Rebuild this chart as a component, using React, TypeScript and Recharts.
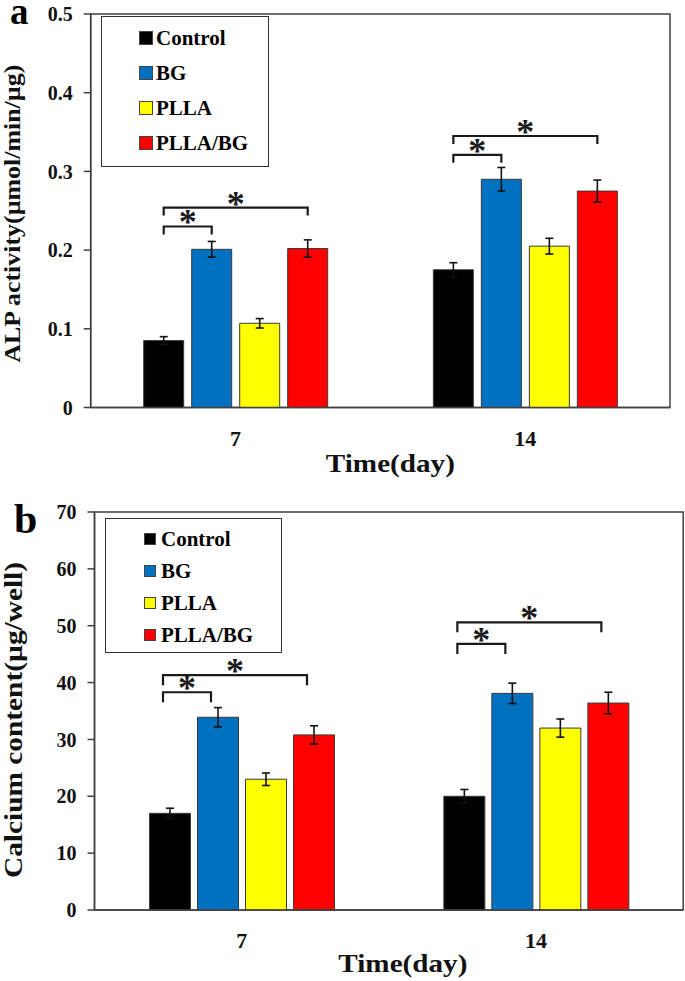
import React from 'react';
import { BarChart, Bar, XAxis, YAxis, ErrorBar, LabelList, Legend, ReferenceArea } from 'recharts';

const FONT = "'Liberation Serif', 'Times New Roman', serif";

const days = ['7', '14'];
const seriesNames = ['Control', 'BG', 'PLLA', 'PLLA/BG'];
const seriesColors = ['#000000', '#0070C0', '#FFFF00', '#FF0000'];

// (a) ALP activity, umol/min/ug
const alpControl = [0.085, 0.175];
const alpControlErr = [0.005, 0.009];
const alpBG = [0.201, 0.29];
const alpBGErr = [0.01, 0.015];
const alpPLLA = [0.107, 0.205];
const alpPLLAErr = [0.006, 0.01];
const alpPLLABG = [0.202, 0.275];
const alpPLLABGErr = [0.011, 0.014];
const alpTicks = [0, 0.1, 0.2, 0.3, 0.4, 0.5];
// significance bracket levels (Control vs BG, Control vs PLLA/BG)
const alpSigBG = [0.23, 0.321];
const alpSigPB = [0.254, 0.345];

// (b) calcium content, ug/well
const caControl = [17, 20];
const caControlErr = [0.9, 1.2];
const caBG = [33.9, 38.1];
const caBGErr = [1.7, 1.8];
const caPLLA = [23, 32];
const caPLLAErr = [1.1, 1.6];
const caPLLABG = [30.8, 36.4];
const caPLLABGErr = [1.6, 1.9];
const caTicks = [0, 10, 20, 30, 40, 50, 60, 70];
const caSigBG = [38.3, 46.8];
const caSigPB = [41.3, 50.6];

function buildRows(vals: number[][], errs: number[][]) {
  return days.map((d, i) => ({
    day: d,
    s0: vals[0][i], e0: errs[0][i],
    s1: vals[1][i], e1: errs[1][i],
    s2: vals[2][i], e2: errs[2][i],
    s3: vals[3][i], e3: errs[3][i],
  }));
}

const bracketLabel = (levels: number[], span: number, pitch: number, drop: number, shift: number) =>
  (props: any) => {
    const vb = props.viewBox || props;
    const x = Number(vb.x), y = Number(vb.y), w = Number(vb.width);
    const h = Math.abs(Number(vb.height));
    const v = Number(props.value);
    const idx = Number(props.index);
    if (!isFinite(x) || !isFinite(y) || !v || levels[idx] === undefined) return null;
    const base = y + h;
    const k = h / v;
    const yL = base - levels[idx] * k;
    const xR = x + w / 2 + shift;
    const xL = xR - span * pitch;
    return (
      <g>
        <path d={`M${xL},${yL + drop}V${yL}H${xR}V${yL + drop}`} fill="none" stroke="#1a1a1a" strokeWidth={2.2} />
        <text x={(xL + xR) / 2} y={yL + 8} textAnchor="middle" fontFamily={FONT} fontWeight={700} fontSize={36} fill="#1a1a1a">*</text>
      </g>
    );
  };

const legendContent = (box: any) => () => (
  <div style={{ width: box.width, height: box.height, border: '1.5px solid #333', boxSizing: 'border-box', position: 'relative', background: '#fff', fontFamily: FONT }}>
    {seriesNames.map((n, i) => (
      <div key={n} style={{ position: 'absolute', left: box.sqX, top: box.first + i * box.step - 12, height: 24, display: 'flex', alignItems: 'center' }}>
        <span style={{ display: 'inline-block', width: box.sq, height: box.sq, background: seriesColors[i], border: '1px solid #444', boxSizing: 'border-box', marginRight: box.gap }} />
        <span style={{ fontSize: 21, fontWeight: 700, lineHeight: '24px', whiteSpace: 'nowrap', color: '#000' }}>{n}</span>
      </div>
    ))}
  </div>
);

function Panel({ cfg }: { cfg: any }) {
  const pitch = cfg.barSize + cfg.barGap;
  const yMax = cfg.ticks[cfg.ticks.length - 1];
  return (
    <div style={{ position: 'absolute', left: 0, top: cfg.top }}>
      <BarChart
        width={685}
        height={cfg.height}
        data={cfg.rows}
        margin={{ top: cfg.marginTop, right: cfg.marginRight, bottom: 0, left: 0 }}
        barSize={cfg.barSize}
        barGap={cfg.barGap}
      >
        <XAxis
          dataKey="day"
          height={cfg.xHeight}
          tickLine={false}
          tickSize={0}
          tickMargin={22.5}
          axisLine={{ stroke: '#404040', strokeWidth: 1.5 }}
          tick={{ fill: '#111', fontSize: 22, fontWeight: 700, fontFamily: FONT }}
          label={{
            content: (p: any) => {
              const vb = p.viewBox || {};
              return (
                <text x={vb.x + vb.width / 2 + cfg.xTitleDx} y={vb.y + cfg.xTitleDy} textAnchor="middle" fontFamily={FONT} fontWeight={700} fontSize={26} textLength={129} lengthAdjust="spacingAndGlyphs" fill="#111">
                  Time(day)
                </text>
              );
            },
          }}
        />
        <YAxis
          width={cfg.yWidth}
          domain={[0, yMax]}
          ticks={cfg.ticks}
          interval={0}
          tickSize={7}
          tickMargin={11}
          axisLine={{ stroke: '#404040', strokeWidth: 1.5 }}
          tickLine={{ stroke: '#404040', strokeWidth: 1.5 }}
          tick={{ fill: '#111', fontSize: 20, fontWeight: 700, fontFamily: FONT }}
          label={{
            content: (p: any) => {
              const vb = p.viewBox || {};
              const cy = vb.y + vb.height / 2 + cfg.titleDy;
              return (
                <text x={cfg.titleX} y={cy} transform={`rotate(-90, ${cfg.titleX}, ${cy})`} textAnchor="middle" fontFamily={FONT} fontWeight={700} fontSize={cfg.titleSize} textLength={cfg.titleLen} lengthAdjust="spacingAndGlyphs" fill="#111">
                  {cfg.title}
                </text>
              );
            },
          }}
        />
        <ReferenceArea y1={0} y2={yMax} fill="none" stroke="#404040" strokeWidth={1.5} ifOverflow="visible" />
        <Legend
          layout="vertical"
          align="center"
          verticalAlign="middle"
          content={legendContent(cfg.legend)}
          wrapperStyle={{ left: cfg.legend.left, top: cfg.legend.top, width: cfg.legend.width, height: cfg.legend.height }}
        />
        {seriesNames.map((name, i) => (
          <Bar key={name} dataKey={`s${i}`} name={name} fill={seriesColors[i]} stroke="#3a3a3a" strokeWidth={1} isAnimationActive={false}>
            <ErrorBar dataKey={`e${i}`} width={4} stroke="#111" strokeWidth={1.6} direction="y" isAnimationActive={false} />
            {i === 1 && <LabelList dataKey="s1" content={bracketLabel(cfg.sigBG, 1, pitch, cfg.drop, cfg.shift)} />}
            {i === 3 && <LabelList dataKey="s3" content={bracketLabel(cfg.sigPB, 3, pitch, cfg.drop, cfg.shift)} />}
          </Bar>
        ))}
      </BarChart>
    </div>
  );
}

const panelA = {
  rows: buildRows([alpControl, alpBG, alpPLLA, alpPLLABG], [alpControlErr, alpBGErr, alpPLLAErr, alpPLLABGErr]),
  ticks: alpTicks,
  sigBG: alpSigBG,
  sigPB: alpSigPB,
  top: 0, height: 490, marginTop: 14, marginRight: 15, yWidth: 90.7, xHeight: 82.5,
  barSize: 40, barGap: 8, drop: 8, shift: 0,
  title: 'ALP activity(µmol/min/µg)', titleSize: 23, titleLen: 298, titleX: 20, titleDy: 3,
  xTitleDx: 10, xTitleDy: 64,
  legend: { left: 101, top: 16, width: 168, height: 151, first: 21, step: 35, sqX: 37, sq: 14, gap: 3 },
};

const panelB = {
  rows: buildRows([caControl, caBG, caPLLA, caPLLABG], [caControlErr, caBGErr, caPLLAErr, caPLLABGErr]),
  ticks: caTicks,
  sigBG: caSigBG,
  sigPB: caSigPB,
  top: 490, height: 491, marginTop: 22, marginRight: 1.8, yWidth: 94.5, xHeight: 71,
  barSize: 41, barGap: 7, drop: 10, shift: -7,
  title: 'Calcium content(µg/well)', titleSize: 25, titleLen: 316, titleX: 22, titleDy: 9,
  xTitleDx: 14, xTitleDy: 62,
  legend: { left: 105, top: 28.3, width: 177, height: 135, first: 20, step: 32, sqX: 38, sq: 12, gap: 5 },
};

export default function App() {
  return (
    <div style={{ position: 'absolute', left: 0, top: 0, width: 685, height: 981, background: '#fff' }}>
      <Panel cfg={panelA} />
      <Panel cfg={panelB} />
      <svg width={685} height={981} style={{ position: 'absolute', left: 0, top: 0, pointerEvents: 'none' }}>
        <text x={10} y={24} fontFamily={FONT} fontWeight={700} fontSize={37} fill="#000">a</text>
        <text x={14} y={533} fontFamily={FONT} fontWeight={700} fontSize={42} fill="#000">b</text>
      </svg>
    </div>
  );
}
